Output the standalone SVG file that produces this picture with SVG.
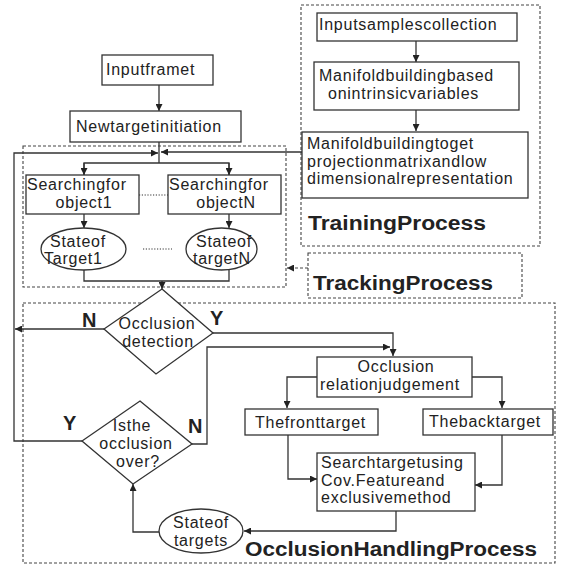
<svg xmlns="http://www.w3.org/2000/svg" width="562" height="568" viewBox="0 0 562 568">
<defs>
<marker id="ah" viewBox="0 0 10 10" refX="10" refY="5" markerWidth="7" markerHeight="7" markerUnits="userSpaceOnUse" orient="auto">
<path d="M0,0 L10,5 L0,10 z" fill="#222"/>
</marker>
</defs>
<style>
.t{font-family:"Liberation Sans",Arial,sans-serif;font-size:16px;letter-spacing:0.75px;fill:#222}
.b{font-family:"Liberation Sans",Arial,sans-serif;font-weight:bold;fill:#222}
.box{fill:#fff;stroke:#333;stroke-width:1.3}
.grp{fill:none;stroke:#444;stroke-width:1.1;stroke-dasharray:3,2}
.c{fill:none;stroke:#333;stroke-width:1.3}
.a{marker-end:url(#ah)}
.dot{fill:none;stroke:#333;stroke-width:1.2;stroke-dasharray:1.2,1.6}
</style>
<rect width="562" height="568" fill="#fff"/>

<!-- group frames -->
<g id="training-process">
<rect class="grp" x="301" y="5" width="239" height="241"/>
<text class="b" x="308" y="230" font-size="20" textLength="178" lengthAdjust="spacingAndGlyphs">TrainingProcess</text>
</g>
<g id="tracking-frame">
<rect class="grp" x="23" y="146" width="263" height="141"/>
</g>
<g id="tracking-process">
<rect class="grp" x="308" y="253" width="214" height="45"/>
<text class="b" x="313" y="290" font-size="20" textLength="180" lengthAdjust="spacingAndGlyphs">TrackingProcess</text>
</g>
<g id="occlusion-handling-process">
<rect class="grp" x="23" y="303" width="532" height="260"/>
<text class="b" x="245" y="556" font-size="20" textLength="292" lengthAdjust="spacingAndGlyphs">OcclusionHandlingProcess</text>
</g>

<!-- connectors -->
<g id="connectors">
<path class="c a" d="M159,85 V111"/>
<path class="c" d="M159,142 V163"/>
<path class="c" d="M84,175 V163 H229 V175"/>
<path class="c a" d="M84,163 V175"/>
<path class="c a" d="M229,163 V175"/>
<path class="c a" d="M82,441 H14 V153 H158"/>
<path class="c a" d="M302,152 H161"/>
<path class="c a" d="M84,214 V228"/>
<path class="c a" d="M229,214 V228"/>
<path class="c" d="M84,270 V281 H229 V270"/>
<path class="c a" d="M162,281 V289"/>
<path class="dot" d="M139,195 H168"/>
<path class="dot" d="M143,249 H172"/>
<path class="grp a" d="M308,268 H287"/>
<path class="c a" d="M104,329 H15"/>
<path class="c a" d="M213,333 H393 V356"/>
<path class="c a" d="M192,444 H207 V347 H390"/>
<path class="c a" d="M317,377 H287 V408"/>
<path class="c a" d="M472,377 H502 V408"/>
<path class="c a" d="M288,435 V479 H317"/>
<path class="c a" d="M502,435 V485 H475"/>
<path class="c a" d="M396,511 V531 H244"/>
<path class="c a" d="M159,532 H133 V484"/>
<path class="c a" d="M416,41 V62"/>
<path class="c a" d="M416,110 V131"/>
</g>

<!-- nodes -->
<g id="input-frame">
<rect class="box" x="102" y="55" width="111" height="30"/>
<text class="t" x="106" y="75">Inputframet</text>
</g>
<g id="new-target">
<rect class="box" x="70" y="111" width="171" height="31"/>
<text class="t" x="76" y="132">Newtargetinitiation</text>
</g>
<g id="input-samples">
<rect class="box" x="317" y="13" width="200" height="28"/>
<text class="t" x="319" y="30">Inputsamplescollection</text>
</g>
<g id="manifold-intrinsic">
<rect class="box" x="314" y="62" width="205" height="48"/>
<text class="t" x="319" y="81">Manifoldbuildingbased</text>
<text class="t" x="328" y="99">onintrinsicvariables</text>
</g>
<g id="manifold-projection">
<rect class="box" x="302" y="132" width="226" height="66"/>
<text class="t" x="307" y="149">Manifoldbuildingtoget</text>
<text class="t" x="307" y="167">projectionmatrixandlow</text>
<text class="t" x="307" y="184">dimensionalrepresentation</text>
</g>
<g id="search-1">
<rect class="box" x="26" y="175" width="113" height="39"/>
<text class="t" x="27" y="190">Searchingfor</text>
<text class="t" x="84" y="208" text-anchor="middle">object1</text>
</g>
<g id="search-n">
<rect class="box" x="168" y="175" width="113" height="39"/>
<text class="t" x="169" y="190">Searchingfor</text>
<text class="t" x="226" y="208" text-anchor="middle">objectN</text>
</g>
<g id="state-1">
<ellipse class="box" cx="83.5" cy="249" rx="42.5" ry="21"/>
<text class="t" x="50" y="247">Stateof</text>
<text class="t" x="44" y="264">Target1</text>
</g>
<g id="state-n">
<ellipse class="box" cx="221.5" cy="249" rx="35.5" ry="21"/>
<text class="t" x="196" y="247">Stateof</text>
<text class="t" x="193" y="264">targetN</text>
</g>
<g id="occlusion-detection">
<path class="box" d="M162,289 L213,333 L156,374 L104,329 Z"/>
<text class="t" x="157" y="329" text-anchor="middle">Occlusion</text>
<text class="t" x="158" y="347" text-anchor="middle">detection</text>
<text class="b" x="82" y="327" font-size="20">N</text>
<text class="b" x="210" y="325" font-size="20">Y</text>
</g>
<g id="occlusion-over">
<path class="box" d="M140,401 L192,444 L133,484 L82,441 Z"/>
<text class="t" x="132" y="431" text-anchor="middle">Isthe</text>
<text class="t" x="136" y="449" text-anchor="middle">occlusion</text>
<text class="t" x="138" y="467" text-anchor="middle">over?</text>
<text class="b" x="63" y="430" font-size="20">Y</text>
<text class="b" x="188" y="433" font-size="20">N</text>
</g>
<g id="relation-judgement">
<rect class="box" x="317" y="357" width="155" height="40"/>
<text class="t" x="396" y="372" text-anchor="middle">Occlusion</text>
<text class="t" x="320" y="390">relationjudgement</text>
</g>
<g id="front-target">
<rect class="box" x="245" y="409" width="133" height="26"/>
<text class="t" x="255" y="428">Thefronttarget</text>
</g>
<g id="back-target">
<rect class="box" x="423" y="409" width="130" height="26"/>
<text class="t" x="429" y="427">Thebacktarget</text>
</g>
<g id="search-target">
<rect class="box" x="317" y="453" width="158" height="58"/>
<text class="t" x="321" y="468">Searchtargetusing</text>
<text class="t" x="321" y="486">Cov.Featureand</text>
<text class="t" x="321" y="503">exclusivemethod</text>
</g>
<g id="state-targets">
<ellipse class="box" cx="201" cy="531" rx="42" ry="22"/>
<text class="t" x="201" y="528" text-anchor="middle">Stateof</text>
<text class="t" x="201" y="546" text-anchor="middle">targets</text>
</g>
</svg>
